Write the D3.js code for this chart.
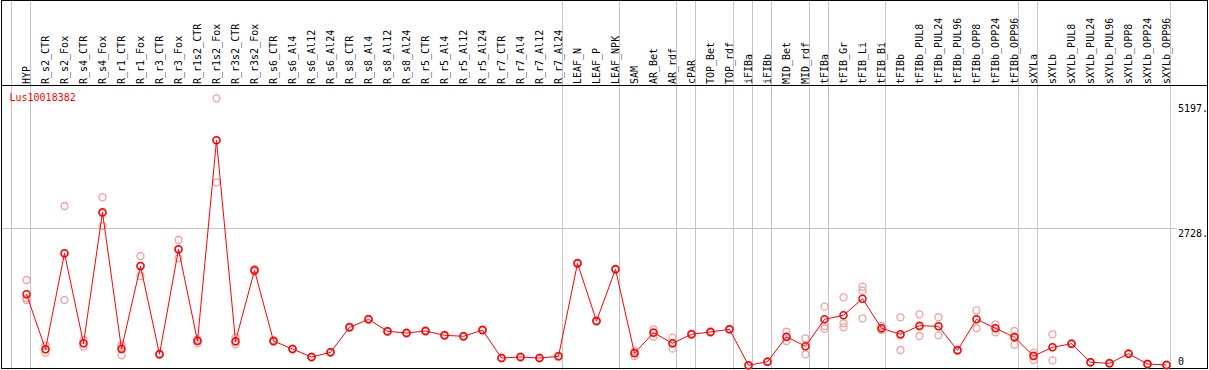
<!DOCTYPE html>
<html>
<head>
<meta charset="utf-8">
<script src="https://cdn.jsdelivr.net/npm/d3@7"></script>
<style>
html,body{margin:0;padding:0;background:#fff;}
svg{display:block;}
text{font-family:"DejaVu Sans Mono","Liberation Mono",monospace;font-size:10px;}
</style>
</head>
<body>
<svg id="chart" width="1209" height="370"></svg>
<script>
const geneName = "Lus10018382";
const categories = ["HYP","R_s2_CTR","R_s2_Fox","R_s4_CTR","R_s4_Fox","R_r1_CTR","R_r1_Fox","R_r3_CTR","R_r3_Fox","R_r1s2_CTR","R_r1s2_Fox","R_r3s2_CTR","R_r3s2_Fox","R_s6_CTR","R_s6_Al4","R_s6_Al12","R_s6_Al24","R_s8_CTR","R_s8_Al4","R_s8_Al12","R_s8_Al24","R_r5_CTR","R_r5_Al4","R_r5_Al12","R_r5_Al24","R_r7_CTR","R_r7_Al4","R_r7_Al12","R_r7_Al24","LEAF_N","LEAF_P","LEAF_NPK","SAM","AR_Bet","AR_rdf","cPAR","TOP_Bet","TOP_rdf","iFIBa","iFIBb","MID_Bet","MID_rdf","tFIBa","tFIB_Gr","tFIB_Li","tFIB_Bi","tFIBb","tFIBb_PUL8","tFIBb_PUL24","tFIBb_PUL96","tFIBb_OPP8","tFIBb_OPP24","tFIBb_OPP96","sXYLa","sXYLb","sXYLb_PUL8","sXYLb_PUL24","sXYLb_PUL96","sXYLb_OPP8","sXYLb_OPP24","sXYLb_OPP96"];
const means = [1420,331,2233,450,3045,337,1981,232,2312,495,4471,489,1896,495,337,178,271,767,925,687,654,693,608,588,713,158,178,158,192,2034,891,1916,252,660,450,628,674,727,14,85,580,390,925,1004,1333,747,628,798,786,311,925,747,569,198,370,442,73,53,244,40,20];
const replicates = [
 [1704,1341,1307],[410,331,263],[3170,2222,1307],[515,450,382],[3342,3020,2773],
 [416,377,218],[2179,1981,1783],[220,232,244],[2496,2306,2134],[529,506,450],
 [5303,4471,3639],[561,476,430],[1870,1896,1922],[480,495,510],[330,337,345],
 [170,178,186],[265,271,277],[755,767,779],[915,925,935],[677,687,697],
 [644,654,664],[683,693,703],[598,608,618],[578,588,598],[703,713,723],
 [150,158,166],[170,178,186],[150,158,166],[184,192,200],[2020,2034,2048],
 [880,891,902],[1905,1916,1927],[291,267,198],[727,673,580],[561,446,343],
 [618,628,638],[664,674,684],[717,727,737],[10,14,18],[80,85,90],
 [679,566,495],[549,389,232],[1175,792,739],[1361,846,767],[1571,1492,945],
 [792,736,713],[965,602,317],[1024,776,594],[965,785,608],[300,311,322],
 [1103,925,747],[826,747,668],[693,592,422],[263,212,119],[628,369,113],
 [435,442,449],[66,73,80],[46,53,60],[237,244,251],[33,40,47],[13,20,27]
];
const tickValues = [0, 2728, 5197];
const tickLabels = ["0", "2728.", "5197."];
const gridValues = [2728];
const separatorsAfter = ["HYP","R_r7_Al24","LEAF_NPK","AR_rdf","cPAR","TOP_rdf","iFIBa","iFIBb","MID_rdf","tFIBa","tFIB_Bi","tFIBb_OPP96","sXYLa","sXYLb_OPP96"];

const W = 1209, H = 370;
const svg = d3.select("#chart");
const headerY = 85;
const x = d3.scalePoint().domain(categories).range([26.5, 1166.5]);
const step = x.step();
const y = d3.scaleLinear().domain([0, 2728]).range([366, 228.3]);

const grey = "#c4c4c4";
// vertical separators
const sepX = [x(categories[0]) - step].concat(separatorsAfter.map(c => x(c)));
svg.append("g").selectAll("line").data(sepX).join("line")
  .attr("x1", d => Math.floor(d + 4) + 0.5).attr("x2", d => Math.floor(d + 4) + 0.5)
  .attr("y1", 0).attr("y2", H)
  .attr("stroke", grey).attr("stroke-width", 1);

// horizontal grid
svg.append("g").selectAll("line").data(gridValues).join("line")
  .attr("x1", 1).attr("x2", 1177)
  .attr("y1", d => Math.round(y(d)) + 0.5).attr("y2", d => Math.round(y(d)) + 0.5)
  .attr("stroke", grey).attr("stroke-width", 1);

// frame
svg.append("rect").attr("x", 1.5).attr("y", 0.5).attr("width", 1206).attr("height", 368)
  .attr("fill", "none").attr("stroke", "#000").attr("stroke-width", 1);
svg.append("line").attr("x1", 1).attr("x2", 1208).attr("y1", headerY + 0.5).attr("y2", headerY + 0.5)
  .attr("stroke", "#000").attr("stroke-width", 1);

// category labels
svg.append("g").selectAll("text").data(categories).join("text")
  .attr("transform", d => `translate(${x(d) + 3},${headerY - 1}) rotate(-90)`)
  .attr("text-anchor", "start").attr("fill", "#000")
  .text(d => d);

// right axis labels
svg.append("g").selectAll("text").data(tickValues).join("text")
  .attr("x", 1178).attr("y", d => Math.min(y(d) + 8.5, 365))
  .attr("fill", "#000")
  .text((d, i) => tickLabels[i]);

// gene name
svg.append("text").attr("x", 9.5).attr("y", 101).attr("fill", "#ff0000").text(geneName);

// replicates
const repData = [];
replicates.forEach((r, i) => r.forEach(v => repData.push({c: categories[i], v})));
svg.append("g").selectAll("circle").data(repData).join("circle")
  .attr("cx", d => x(d.c)).attr("cy", d => y(d.v)).attr("r", 3.5)
  .attr("fill", "none").attr("stroke", "#f0a0a0").attr("stroke-width", 1.3);

// mean line
const line = d3.line().x((d, i) => x(categories[i])).y(d => y(d));
svg.append("path").datum(means).attr("d", line)
  .attr("fill", "none").attr("stroke", "#ff0000").attr("stroke-width", 1);

// mean points
svg.append("g").selectAll("circle").data(means).join("circle")
  .attr("cx", (d, i) => x(categories[i])).attr("cy", d => y(d)).attr("r", 3.5)
  .attr("fill", "none").attr("stroke", "#ff0000").attr("stroke-width", 1.5);
</script>
</body>
</html>
